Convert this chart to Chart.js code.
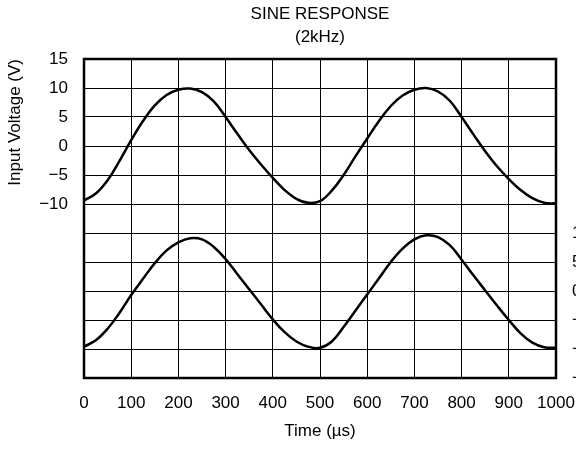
<!DOCTYPE html>
<html>
<head>
<meta charset="utf-8">
<script src="https://cdn.jsdelivr.net/npm/chart.js@4/dist/chart.umd.min.js"></script>
<style>
html, body { margin: 0; padding: 0; background: #fff; overflow: hidden; }
</style>
</head>
<body>
<canvas id="myChart" width="576" height="450"></canvas>
<script>
// time axis (µs), read every 25 µs off the scope trace
var times = [0, 25, 50, 75, 100, 125, 150, 175, 200, 225, 250, 275, 300, 325, 350, 375, 400, 425, 450, 475,
             500, 525, 550, 575, 600, 625, 650, 675, 700, 725, 750, 775, 800, 825, 850, 875, 900, 925, 950, 975, 1000];

// upper trace, left axis
var inputVolts = [-9.4, -8.2, -5.9, -2.6, 1.0, 4.3, 7.0, 8.8, 9.7, 9.9, 9.3, 7.7, 5.0, 2.1, -0.7, -3.2, -5.5, -7.6, -9.1, -9.8,
                  -9.5, -7.7, -5.0, -1.8, 1.3, 4.3, 6.9, 8.7, 9.7, 10.0, 9.4, 7.8, 5.0, 2.0, -0.9, -3.5, -5.7, -7.6, -9.0, -9.8, -9.9];

// lower trace, right axis
var outputVolts = [-9.6, -8.5, -6.5, -3.8, -0.7, 2.1, 4.8, 7.0, 8.4, 9.1, 8.9, 7.6, 5.5, 2.9, 0.3, -2.3, -4.9, -7.1, -8.7, -9.6,
                   -9.8, -8.7, -6.2, -3.4, -0.6, 2.2, 5.0, 7.3, 8.9, 9.6, 9.3, 7.9, 5.4, 2.7, 0.1, -2.5, -5.0, -7.3, -8.9, -9.7, -9.8];

var titleLines = ['SINE RESPONSE', '(2kHz)'];
var xTitle = 'Time (µs)';
var yTitle = 'Input Voltage (V)';

function toPoints(xs, ys) {
    var pts = [];
    for (var i = 0; i < xs.length; i++) {
        pts.push({ x: xs[i], y: ys[i] });
    }
    return pts;
}

function fmt(v) {
    return v < 0 ? '\u2212' + Math.abs(v) : '' + v;
}

Chart.defaults.font.family = '"Liberation Sans", Arial, sans-serif';
Chart.defaults.font.size = 17;
Chart.defaults.color = '#000';

// heavy frame round the plot area
var frame = {
    id: 'frame',
    afterDatasetsDraw: function (chart) {
        var a = chart.chartArea;
        var c = chart.ctx;
        c.save();
        c.strokeStyle = '#000';
        c.lineWidth = 2.5;
        c.strokeRect(a.left, a.top, a.right - a.left, a.bottom - a.top);
        c.restore();
    }
};

var ctx = document.getElementById("myChart");

var chart = new Chart(ctx, {
    type: 'line',
    data: {
        datasets: [{
            data: toPoints(times, inputVolts),
            yAxisID: 'y',
            borderColor: '#000',
            borderWidth: 2.5,
            pointRadius: 0,
            tension: 0.4
        }, {
            data: toPoints(times, outputVolts),
            yAxisID: 'y2',
            borderColor: '#000',
            borderWidth: 2.5,
            pointRadius: 0,
            tension: 0.4
        }]
    },
    options: {
        responsive: false,
        animation: false,
        layout: { padding: 0 },
        plugins: {
            legend: { display: false },
            tooltip: { enabled: false },
            title: {
                display: true,
                text: titleLines,
                fullSize: false,
                color: '#000',
                font: { size: 17, weight: 'normal', lineHeight: 23 / 17 },
                padding: { top: 3, bottom: 10 }
            }
        },
        scales: {
            x: {
                type: 'linear',
                min: 0,
                max: 1000,
                ticks: {
                    stepSize: 100,
                    padding: 15,
                    maxRotation: 0,
                    autoSkip: false,
                    callback: function (v) { return '' + v; }
                },
                grid: { color: '#000', lineWidth: 1, drawTicks: false },
                border: { display: false },
                title: { display: true, text: xTitle, padding: { top: 0, bottom: 8 } },
                afterFit: function (s) {
                    s.height = 72;
                    s.paddingLeft = 0;
                    s.paddingRight = 0;
                }
            },
            y: {
                position: 'left',
                min: -40,
                max: 15,
                ticks: {
                    stepSize: 5,
                    padding: 16,
                    autoSkip: false,
                    callback: function (v) { return v >= -10 ? fmt(v) : ''; }
                },
                grid: { color: '#000', lineWidth: 1, drawTicks: false },
                border: { display: false },
                title: { display: true, text: yTitle, align: 'end', padding: { top: 5, bottom: 0 } },
                afterFit: function (s) { s.width = 84; }
            },
            y2: {
                position: 'right',
                min: -15,
                max: 40,
                ticks: {
                    stepSize: 5,
                    padding: 16,
                    autoSkip: false,
                    callback: function (v) { return v <= 10 ? fmt(v) : ''; }
                },
                grid: { display: false, drawTicks: false },
                border: { display: false },
                afterFit: function (s) { s.width = 20; }
            }
        }
    },
    plugins: [frame]
});
</script>
</body>
</html>
